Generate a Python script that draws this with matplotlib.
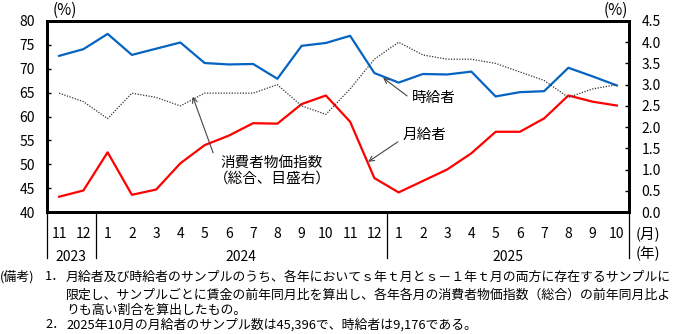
import matplotlib
matplotlib.use("Agg")
import matplotlib.pyplot as plt
import matplotlib.transforms as mtransforms
from matplotlib.lines import Line2D

# 2023/11 - 2025/10
months = ["11", "12"] + [str(m) for m in range(1, 13)] + [str(m) for m in range(1, 11)]
years = ["2023", "2024", "2025"]
year_spans = [(0, 1), (2, 13), (14, 23)]

hourly = [72.7, 74.1, 77.3, 72.9, 74.2, 75.5, 71.2, 70.9, 71.0, 67.9, 74.8, 75.4,
          76.9, 69.1, 67.1, 68.9, 68.8, 69.4, 64.2, 65.1, 65.3, 70.2, 68.4, 66.5]
monthly = [43.2, 44.5, 52.5, 43.6, 44.7, 50.2, 54.0, 56.0, 58.6, 58.5, 62.6, 64.4,
           58.9, 47.1, 44.1, 46.5, 48.9, 52.3, 56.8, 56.8, 59.6, 64.4, 63.1, 62.3]
cpi = [2.8, 2.6, 2.2, 2.8, 2.7, 2.5, 2.8, 2.8, 2.8, 3.0, 2.5, 2.3,
       2.9, 3.6, 4.0, 3.7, 3.6, 3.6, 3.5, 3.3, 3.1, 2.7, 2.9, 3.0]

left_ticks = list(range(40, 81, 5))
right_ticks = [i * 0.5 for i in range(10)]

notes = [
    ("(備考)", "1．", "月給者及び時給者のサンプルのうち、各年においてｓ年ｔ月とｓ－１年ｔ月の両方に存在するサンプルに"),
    ("", "", "限定し、サンプルごとに賃金の前年同月比を算出し、各年各月の消費者物価指数（総合）の前年同月比よ"),
    ("", "", "りも高い割合を算出したもの。"),
    ("", "2．", "2025年10月の月給者のサンプル数は45,396で、時給者は9,176である。"),
]

JP = ["Noto Sans CJK JP", "DejaVu Sans"]
NUM = ["Liberation Sans Narrow", "Noto Sans CJK JP", "DejaVu Sans"]
plt.rcParams["font.family"] = JP

W, H = 676, 334
fig = plt.figure(figsize=(W / 100, H / 100), dpi=100)
L, R, T, B = 47, 629, 21, 212
ax = fig.add_axes([L / W, 1 - B / H, (R - L) / W, (B - T) / H])
ax2 = ax.twinx()

x = list(range(len(months)))
ax.plot(x, hourly, color="#0563C1", lw=1.6, zorder=3)
ax.plot(x, monthly, color="#FF0000", lw=1.6, zorder=3)
ax2.plot(x, cpi, color="#333333", lw=0.9, ls=(0, (1, 1.2)))

ax.set_xlim(-0.5, len(months) - 0.5)
ax.set_ylim(40, 80)
ax2.set_ylim(0, 4.5)
ax.set_yticks(left_ticks)
ax.set_yticklabels([str(v) for v in left_ticks], family=NUM, fontsize=10)
ax2.set_yticks(right_ticks)
ax2.set_yticklabels([f"{v:.1f}" for v in right_ticks], family=NUM, fontsize=10)
ax.tick_params(axis="y", direction="in", length=3, width=1, pad=8.5)
ax2.tick_params(axis="y", direction="in", length=3, width=1, pad=9)
ax.set_xticks(x)
ax.set_xticklabels(months, family=NUM, fontsize=10)
ax.tick_params(axis="x", length=0, pad=10.5)

for a in (ax, ax2):
    for s in a.spines.values():
        s.set_linewidth(2)
        s.set_color("black")

# year separators and year labels
trans = mtransforms.blended_transform_factory(ax.transData, ax.transAxes)
for xs in [-0.5, 1.5, 13.5, len(months) - 0.5]:
    ax.add_line(Line2D([xs, xs], [0, -0.241], transform=trans, color="black",
                       lw=0.9, clip_on=False))
for yr, (a0, a1) in zip(years, year_spans):
    ax.text((a0 + a1) / 2, -0.235, yr, transform=trans, ha="center", va="center",
            family=NUM, fontsize=10)

fig.text(65 / W, 1 - 10 / H, "(%)", ha="center", va="center", fontsize=11)
fig.text(616 / W, 1 - 10 / H, "(%)", ha="center", va="center", fontsize=11)
fig.text(648 / W, 1 - 234 / H, "(月)", ha="center", va="center", fontsize=10.5)
fig.text(648 / W, 1 - 254 / H, "(年)", ha="center", va="center", fontsize=10.5)

# annotations
arrow = dict(arrowstyle="->", color="#444444", lw=0.8, mutation_scale=9,
             shrinkA=0, shrinkB=0)
ax.annotate("", xy=(13.36, 68.1), xytext=(14.35, 64.3), arrowprops=arrow)
ax.text(15.46, 63.9, "時給者", ha="center", va="center", fontsize=10.5)
ax.annotate("", xy=(12.74, 50.5), xytext=(13.97, 54.7), arrowprops=arrow)
ax.text(15.05, 56.1, "月給者", ha="center", va="center", fontsize=10.5)
ax.annotate("", xy=(5.51, 64.15), xytext=(6.35, 52.4), arrowprops=arrow)
ax.text(8.78, 48.6, "消費者物価指数\n（総合、目盛右）", ha="center", va="center",
        fontsize=10.5, linespacing=1.2)

# notes
note_y = [277, 295, 310, 325]
for (head, num, body), yy in zip(notes, note_y):
    fy = 1 - yy / H
    if head:
        fig.text(0 / W, fy, head, ha="left", va="center", fontsize=9.3, family=NUM)
    if num:
        fig.text(45 / W, fy, num, ha="left", va="center", fontsize=9.3, family=NUM)
    fig.text(66 / W, fy, body, ha="left", va="center", fontsize=9.3, family=NUM)

fig.savefig("out.png", dpi=100)
